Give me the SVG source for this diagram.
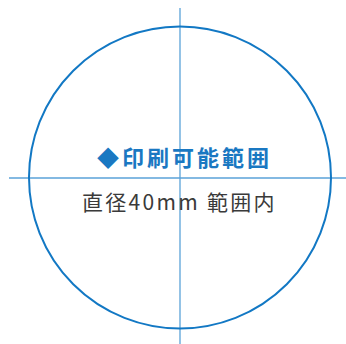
<svg xmlns="http://www.w3.org/2000/svg" width="346" height="344" viewBox="0 0 346 344">
<style>
.ax{stroke:#5aa2d8;stroke-width:1.3;fill:none}
.circ{stroke:#1278c4;stroke-width:2;fill:none}
.t1{font-family:"Noto Sans CJK JP",sans-serif;font-weight:bold;font-size:22px;fill:#1a78c2;letter-spacing:3px}
.t2{font-family:"Noto Sans CJK JP",sans-serif;font-size:21px;fill:#3a3a3a;letter-spacing:2.3px}
</style>
<rect width="346" height="344" fill="#fff"/>
<g id="connectors">
<line class="ax" x1="180" y1="8" x2="180" y2="344"/>
<line class="ax" x1="9" y1="178" x2="346" y2="178"/>
</g>
<g id="circle"><circle class="circ" cx="180" cy="177.5" r="151"/></g>
<g id="title"><text class="t1" x="97" y="166">◆印刷可能範囲</text></g>
<g id="label"><text class="t2" x="82" y="210">直径40mm 範囲内</text></g>
</svg>
